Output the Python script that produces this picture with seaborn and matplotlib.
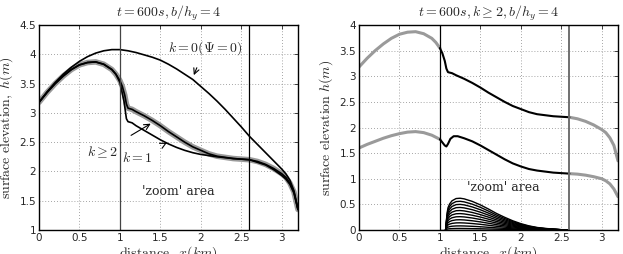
import matplotlib
matplotlib.use("Agg")
import matplotlib.pyplot as plt
import seaborn as sns
import numpy as np
import pandas as pd

# k >= 2 surface (same curve in both panels)
x_k2 = [0, 0.1, 0.2, 0.3, 0.4, 0.5, 0.6, 0.7, 0.8, 0.9, 0.95, 1.0, 1.03, 1.06, 1.08, 1.1,
        1.15, 1.2, 1.3, 1.4, 1.5, 1.6, 1.7, 1.8, 1.9, 2.0, 2.1, 2.2, 2.3, 2.4, 2.5, 2.6,
        2.7, 2.8, 2.9, 3.0, 3.05, 3.1, 3.15, 3.2]
h_k2 = [3.18, 3.35, 3.5, 3.63, 3.74, 3.82, 3.86, 3.87, 3.83, 3.74, 3.66, 3.55, 3.45, 3.3, 3.15, 3.08,
        3.06, 3.02, 2.95, 2.87, 2.78, 2.68, 2.59, 2.5, 2.42, 2.36, 2.3, 2.26, 2.24, 2.22, 2.21, 2.2,
        2.17, 2.12, 2.05, 1.96, 1.9, 1.8, 1.65, 1.35]

# k = 1
x_k1 = [0, 0.1, 0.2, 0.3, 0.4, 0.5, 0.6, 0.7, 0.8, 0.9, 0.95, 1.0, 1.05, 1.08, 1.1, 1.15,
        1.2, 1.3, 1.4, 1.5, 1.6, 1.7, 1.8, 1.9, 2.0, 2.2, 2.4, 2.6, 2.8, 2.9, 3.0, 3.05,
        3.1, 3.15, 3.2]
h_k1 = [3.18, 3.35, 3.5, 3.63, 3.74, 3.82, 3.86, 3.87, 3.83, 3.74, 3.66, 3.52, 3.2, 2.9, 2.85, 2.83,
        2.78, 2.7, 2.62, 2.54, 2.47, 2.41, 2.36, 2.32, 2.29, 2.25, 2.22, 2.2, 2.11, 2.03, 1.93, 1.87,
        1.78, 1.63, 1.35]

# k = 0 (Psi = 0)
x_k0 = [0, 0.1, 0.2, 0.3, 0.4, 0.5, 0.6, 0.7, 0.8, 0.9, 1.0, 1.1, 1.2, 1.3, 1.4, 1.5, 1.6,
        1.7, 1.8, 1.9, 2.0, 2.1, 2.2, 2.3, 2.4, 2.5, 2.6, 2.7, 2.8, 2.9, 3.0, 3.05, 3.1,
        3.15, 3.2]
h_k0 = [3.18, 3.36, 3.52, 3.66, 3.78, 3.88, 3.96, 4.02, 4.06, 4.08, 4.08, 4.06, 4.03, 3.99, 3.95, 3.9, 3.83,
        3.75, 3.66, 3.57, 3.45, 3.33, 3.2, 3.06, 2.91, 2.76, 2.6, 2.46, 2.32, 2.18, 2.04, 1.96, 1.85,
        1.67, 1.35]

# right panel, middle curve
x_mid = [0, 0.1, 0.2, 0.3, 0.4, 0.5, 0.6, 0.7, 0.8, 0.9, 1.0, 1.03, 1.06, 1.08, 1.1, 1.13,
         1.17, 1.22, 1.3, 1.4, 1.5, 1.6, 1.7, 1.8, 1.9, 2.0, 2.1, 2.2, 2.3, 2.4, 2.5, 2.6,
         2.7, 2.8, 2.9, 3.0, 3.05, 3.1, 3.15, 3.2]
h_mid = [1.6, 1.67, 1.73, 1.79, 1.84, 1.88, 1.91, 1.92, 1.9, 1.85, 1.77, 1.71, 1.65, 1.63, 1.68, 1.78,
         1.83, 1.83, 1.79, 1.73, 1.65, 1.56, 1.47, 1.38, 1.3, 1.24, 1.19, 1.16, 1.14, 1.12, 1.11, 1.1,
         1.09, 1.07, 1.04, 1.0, 0.96, 0.9, 0.8, 0.65]

# right panel, bottom family (normalised shape and peak heights)
x_bump = [1.07, 1.08, 1.09, 1.1, 1.12, 1.15, 1.2, 1.25, 1.3, 1.4, 1.5, 1.6, 1.7, 1.8, 1.9,
          2.0, 2.1, 2.2, 2.3, 2.4, 2.5, 2.6]
s_bump = [0, 0.3, 0.55, 0.7, 0.82, 0.92, 0.99, 1.0, 0.98, 0.9, 0.79, 0.66, 0.52, 0.4, 0.29,
          0.2, 0.13, 0.08, 0.05, 0.03, 0.01, 0.0]
peaks = [0.62, 0.56, 0.5, 0.44, 0.38, 0.32, 0.26, 0.2, 0.14, 0.08, 0.03]

x_lines = [1.0, 2.6]

sns.set_style("white")
plt.rcParams["mathtext.fontset"] = "cm"
plt.rcParams["font.family"] = ["DejaVu Sans"]
plt.rcParams["xtick.direction"] = "in"
plt.rcParams["ytick.direction"] = "in"

fig = plt.figure(figsize=(6.23, 2.54), dpi=100)
ax1 = fig.add_axes([0.0626, 0.0945, 0.4157, 0.807])
ax2 = fig.add_axes([0.5762, 0.0945, 0.4157, 0.807])

gray = "#9a9a9a"

# left panel
df_k2 = pd.DataFrame({"x": x_k2, "h": h_k2})
sns.lineplot(data=df_k2, x="x", y="h", ax=ax1, color=gray, lw=4.0, sort=False)
sns.lineplot(data=df_k2, x="x", y="h", ax=ax1, color="black", lw=1.2, sort=False)
sns.lineplot(data=pd.DataFrame({"x": x_k1, "h": h_k1}), x="x", y="h", ax=ax1,
             color="black", lw=1.2, sort=False)
sns.lineplot(data=pd.DataFrame({"x": x_k0, "h": h_k0}), x="x", y="h", ax=ax1,
             color="black", lw=1.2, sort=False)
ax1.axvline(x_lines[0], color="#444444", lw=0.9)
ax1.axvline(x_lines[1], color="black", lw=0.9)

ax1.annotate(r"$k=0(\Psi=0)$", xy=(1.9, 3.6), xytext=(2.05, 4.11), fontsize=10,
             ha="center", va="center",
             arrowprops=dict(arrowstyle="->", color="black", lw=0.8, shrinkA=6))
ax1.annotate(r"$k\geq2$", xy=(1.41, 2.84), xytext=(0.79, 2.33), fontsize=10,
             ha="center", va="center",
             arrowprops=dict(arrowstyle="->", color="black", lw=0.8, shrinkA=8))
ax1.annotate(r"$k=1$", xy=(1.58, 2.49), xytext=(1.21, 2.23), fontsize=10,
             ha="center", va="center",
             arrowprops=dict(arrowstyle="->", color="black", lw=0.8, shrinkA=8))
ax1.text(1.72, 1.65, "'zoom' area", fontsize=9, ha="center", va="center", family="DejaVu Serif")

ax1.set_xlim(0, 3.2)
ax1.set_ylim(1, 4.5)
ax1.set_xticks([0, 0.5, 1, 1.5, 2, 2.5, 3])
ax1.set_xticklabels(["0", "0.5", "1", "1.5", "2", "2.5", "3"])
ax1.set_yticks([1, 1.5, 2, 2.5, 3, 3.5, 4, 4.5])
ax1.set_yticklabels(["1", "1.5", "2", "2.5", "3", "3.5", "4", "4.5"])
ax1.set_title(r"$t=600s, b/h_y=4$", fontsize=10, pad=6)
ax1.set_ylabel(r"$\mathrm{surface\ elevation,}\ h(m)$", fontsize=10, labelpad=3)
ax1.set_xlabel(r"$\mathrm{distance,}\ x(km)$", fontsize=10, labelpad=1)

# right panel
x_k2a = np.array(x_k2)
h_k2a = np.array(h_k2)
x_mida = np.array(x_mid)
h_mida = np.array(h_mid)
for xa, ha in [(x_k2a, h_k2a), (x_mida, h_mida)]:
    left = xa <= 1.0
    mid = (xa >= 1.0) & (xa <= 2.6)
    right = xa >= 2.6
    sns.lineplot(x=xa[left], y=ha[left], ax=ax2, color=gray, lw=2.2, sort=False)
    sns.lineplot(x=xa[right], y=ha[right], ax=ax2, color=gray, lw=2.2, sort=False)
    sns.lineplot(x=xa[mid], y=ha[mid], ax=ax2, color="black", lw=1.5, sort=False)

bump = pd.DataFrame({"x": np.tile(x_bump, len(peaks)),
                     "h": np.concatenate([np.array(s_bump) * p for p in peaks]),
                     "k": np.repeat(np.arange(len(peaks)), len(x_bump))})
sns.lineplot(data=bump, x="x", y="h", units="k", estimator=None, ax=ax2,
             color="black", lw=1.0, sort=False)
ax2.plot([1.0, 2.6], [0.003, 0.003], color="black", lw=1.0)

ax2.axvline(x_lines[0], color="black", lw=0.9)
ax2.axvline(x_lines[1], color="#707070", lw=1.4)
ax2.text(1.78, 0.82, "'zoom' area", fontsize=9, ha="center", va="center", family="DejaVu Serif")

ax2.set_xlim(0, 3.2)
ax2.set_ylim(0, 4)
ax2.set_xticks([0, 0.5, 1, 1.5, 2, 2.5, 3])
ax2.set_xticklabels(["0", "0.5", "1", "1.5", "2", "2.5", "3"])
ax2.set_yticks([0, 0.5, 1, 1.5, 2, 2.5, 3, 3.5, 4])
ax2.set_yticklabels(["0", "0.5", "1", "1.5", "2", "2.5", "3", "3.5", "4"])
ax2.set_title(r"$t=600s, k\geq2, b/h_y=4$", fontsize=10, pad=6)
ax2.set_ylabel(r"$\mathrm{surface\ elevation}\ h(m)$", fontsize=10, labelpad=3)
ax2.set_xlabel(r"$\mathrm{distance,}\ x(km)$", fontsize=10, labelpad=1)

for ax in (ax1, ax2):
    ax.grid(True, linestyle=(0, (1, 2.5)), color="#888888", lw=0.6)
    ax.tick_params(labelsize=7.5, length=3, width=0.6, pad=2, top=True, right=True,
                   labeltop=False, labelright=False)
    for sp in ax.spines.values():
        sp.set_linewidth(1.0)
        sp.set_color("black")
    ax.set_axisbelow(True)

fig.savefig("out.png", dpi=100)
